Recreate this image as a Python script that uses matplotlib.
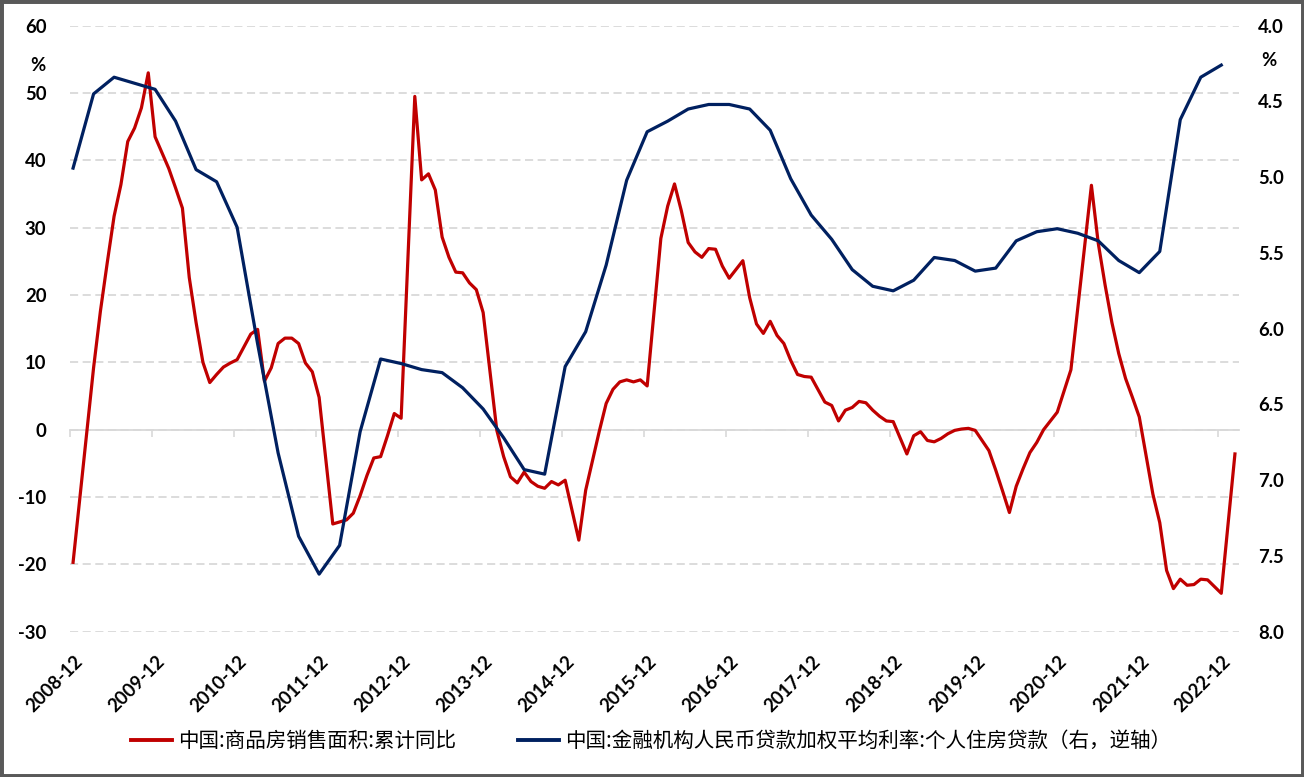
import matplotlib
matplotlib.use("Agg")
import matplotlib.pyplot as plt
import matplotlib.transforms as mtransforms
import numpy as np
import pandas as pd
from matplotlib.patches import Rectangle
from matplotlib.font_manager import FontProperties
from matplotlib.lines import Line2D

plt.rcParams["axes.unicode_minus"] = False

# ---------------- data ----------------
BASE = pd.Period("2008-12", freq="M")

# 商品房销售面积:累计同比 (%), monthly, January not published
sales_months = [str(p) for p in pd.period_range("2008-12", "2023-02", freq="M") if p.month != 1]
sales_yoy = [
    -19.7,
    -0.5, 9.2, 17.6, 24.8, 31.7, 36.4, 42.8, 44.8, 47.8, 53.0, 43.5,          # 2009
    38.8, 35.9, 32.9, 22.6, 15.9, 10.0, 7.0, 8.2, 9.3, 9.9, 10.4,             # 2010
    14.2, 14.9, 7.2, 9.2, 12.8, 13.6, 13.6, 12.8, 9.9, 8.6, 4.8,              # 2011
    -14.0, -13.7, -13.4, -12.4, -9.8, -6.8, -4.2, -4.0, -0.9, 2.4, 1.7,       # 2012
    49.5, 37.1, 38.0, 35.6, 28.6, 25.6, 23.4, 23.3, 21.8, 20.8, 17.4,         # 2013
    -0.1, -4.0, -7.0, -7.9, -6.3, -7.7, -8.4, -8.7, -7.7, -8.2, -7.5,         # 2014
    -16.4, -9.0, -4.6, -0.2, 3.9, 6.0, 7.1, 7.4, 7.1, 7.4, 6.5,               # 2015
    28.4, 33.2, 36.5, 32.5, 27.8, 26.4, 25.6, 26.9, 26.8, 24.3, 22.5,         # 2016
    25.1, 19.6, 15.7, 14.3, 16.1, 14.0, 12.8, 10.3, 8.2, 7.9, 7.8,            # 2017
    4.1, 3.6, 1.3, 2.9, 3.3, 4.2, 4.0, 2.9, 2.0, 1.3, 1.2,                    # 2018
    -3.6, -0.9, -0.3, -1.6, -1.8, -1.3, -0.6, -0.1, 0.1, 0.2, -0.1,           # 2019
    -3.1, -6.0, -9.1, -12.3, -8.4, -5.8, -3.4, -1.9, 0.0, 1.3, 2.6,           # 2020
    8.9, 18.0, 27.1, 36.3, 27.7, 21.5, 15.9, 11.3, 7.6, 4.8, 1.9,             # 2021
    -9.6, -13.8, -20.9, -23.6, -22.2, -23.1, -23.0, -22.2, -22.3, -23.3, -24.3,  # 2022
    -3.6,                                                                      # 2023
]

# 金融机构人民币贷款加权平均利率:个人住房贷款 (%), quarterly
rate_quarters = [str(p) for p in pd.period_range("2008-12", "2022-12", freq="M")[::3]]
rate_values = [
    4.94,
    4.45, 4.34, 4.38, 4.42,
    4.63, 4.95, 5.03, 5.33,
    6.10, 6.82, 7.37, 7.62,
    7.43, 6.68, 6.20, 6.23,
    6.27, 6.29, 6.39, 6.53,
    6.72, 6.93, 6.96, 6.25,
    6.02, 5.58, 5.02, 4.70,
    4.63, 4.55, 4.52, 4.52,
    4.55, 4.69, 5.01, 5.25,
    5.41, 5.61, 5.72, 5.75,
    5.68, 5.53, 5.55, 5.62,
    5.60, 5.42, 5.36, 5.34,
    5.37, 5.42, 5.55, 5.63,
    5.49, 4.62, 4.34, 4.26,
]

tick_labels = [f"{y}-12" for y in range(2008, 2023)]
end_month = "2023-03"

sales_label = "中国:商品房销售面积:累计同比"
rate_label = "中国:金融机构人民币贷款加权平均利率:个人住房贷款（右，逆轴）"


def month_pos(s, offset=0.0):
    return (pd.Period(s, freq="M") - BASE).n + offset


x_sales = [month_pos(m, 0.45) for m in sales_months]
x_rate = [month_pos(m, 0.45) for m in rate_quarters]
x_ticks = [month_pos(m) for m in tick_labels]

# ---------------- style ----------------
W, H = 1304, 777
RED = "#C00000"
NAVY = "#002060"
GRID = "#D9D9D9"
num_font = dict(family="Lato", weight="bold", size=13.3)
cjk = FontProperties(family=["Noto Sans CJK SC", "DejaVu Sans"], size=14.8)

fig = plt.figure(figsize=(W / 100, H / 100), dpi=100)
fig.patch.set_facecolor("white")

left, right, top, bottom = 70, 1238.7, 25.7, 631.7
ax = fig.add_axes([left / W, 1 - bottom / H, (right - left) / W, (bottom - top) / H])
ax.set_xlim(0, month_pos(end_month))
ax.set_ylim(-30, 60)
ax.set_yticks(np.arange(-30, 61, 10))
for s in ax.spines.values():
    s.set_visible(False)
ax.yaxis.grid(True, color=GRID, lw=1.3, ls=(0, (4.5, 2.5)))
ax.set_axisbelow(True)

ax.set_xticks(x_ticks)
ax.set_xticklabels(tick_labels, rotation=45, ha="right", rotation_mode="anchor", fontdict=num_font)
ax.tick_params(axis="x", length=0, pad=15)
shift = mtransforms.ScaledTranslation(4 / 100, 0, fig.dpi_scale_trans)
for t in ax.get_xticklabels():
    t.set_transform(t.get_transform() + shift)
ax.tick_params(axis="y", length=0, pad=17)
for t in ax.get_yticklabels():
    t.set_fontproperties(FontProperties(**num_font))

# category axis drawn at y = 0 with tick marks
sec = ax.secondary_xaxis((0 - (-30)) / 90)
sec.set_xticks(x_ticks)
sec.xaxis.set_ticks_position("bottom")
sec.tick_params(axis="x", length=5, width=1.2, color=GRID, labelbottom=False, labeltop=False, direction="out")
for name, s in sec.spines.items():
    s.set_visible(name == "bottom")
sec.spines["bottom"].set_color(GRID)
sec.spines["bottom"].set_linewidth(1.3)

ax.plot(x_sales, sales_yoy, color=RED, lw=2.3, solid_joinstyle="round", zorder=3)

ax2 = ax.twinx()
ax2.set_ylim(8.0, 4.0)
ax2.set_yticks(np.arange(4.0, 8.01, 0.5))
ax2.set_yticklabels([f"{v:.1f}" for v in np.arange(4.0, 8.01, 0.5)], fontdict=num_font)
ax2.tick_params(axis="y", length=0, pad=14)
for s in ax2.spines.values():
    s.set_visible(False)
ax2.plot(x_rate, rate_values, color=NAVY, lw=2.3, solid_joinstyle="round", zorder=3)

# unit labels
fig.text(38.3 / W, 1 - 65.7 / H, "%", ha="center", va="center", **num_font)
fig.text(1269 / W, 1 - 61 / H, "%", ha="center", va="center", **num_font)

# legend
handles = [Line2D([], [], color=RED, lw=2.8), Line2D([], [], color=NAVY, lw=2.8)]
fig.legend(handles, [sales_label, rate_label], loc="center", bbox_to_anchor=(651 / W, 1 - 741 / H),
           ncol=2, frameon=False, prop=cjk, handlelength=2.0, handletextpad=0.3, columnspacing=3.0)

# outer frame
fig.patches.append(Rectangle((0, 0), 1, 1, transform=fig.transFigure, fill=False,
                             edgecolor="#595959", lw=5, zorder=10))

fig.savefig("out.png", dpi=100)
